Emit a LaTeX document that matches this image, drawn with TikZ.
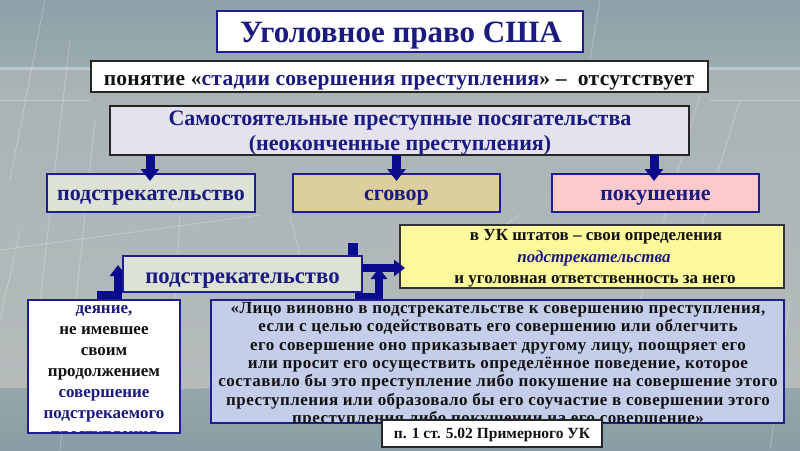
\documentclass[tikz,border=0pt]{standalone}
\usepackage{fontspec}
\setmainfont{Liberation Serif}
\usetikzlibrary{arrows.meta}
\definecolor{navy}{HTML}{1A1A80}
\definecolor{boxblue}{HTML}{1E1E90}
\definecolor{arrowblue}{HTML}{0B0B8E}
\definecolor{txt}{HTML}{121212}
\definecolor{lav}{HTML}{E4E2EC}
\definecolor{sage}{HTML}{DCE2D6}
\definecolor{tanb}{HTML}{DDCF9C}
\definecolor{pinkb}{HTML}{FCCACD}
\definecolor{yel}{HTML}{FCF89C}
\definecolor{peri}{HTML}{C4CDEA}
\definecolor{bgA}{HTML}{8CA1A8}
\definecolor{bgB}{HTML}{9BABB0}
\definecolor{bgC}{HTML}{A9B3B5}
\definecolor{bgD}{HTML}{B5BBBB}
\definecolor{bgE}{HTML}{95A7AC}
\definecolor{bgF}{HTML}{889DA3}
\newcommand\fnt[2]{\fontsize{#1}{#2}\selectfont\bfseries}
\begin{document}
\begin{tikzpicture}[x=1pt,y=-1pt,
  rect/.style={inner sep=0pt, outer sep=0pt},
  lbl/.style={inner sep=0pt, outer sep=0pt, anchor=base},
  bluebord/.style={draw=boxblue, line width=2pt},
  blackbord/.style={draw=black!85, line width=2pt},
  downarr/.style={draw=arrowblue, line width=9pt, -{Triangle[width=18pt,length=12pt]}},
  lowarr/.style={draw=arrowblue, line width=8.5pt, -{Triangle[width=16pt,length=11pt]}},
  bgline/.style={draw=white, opacity=0.28, line width=0.8pt}]
\useasboundingbox (0,0) rectangle (800,450);
% background
\shade[top color=bgA, bottom color=bgB] (0,0) rectangle (800,67);
\fill[white!35!bgB] (0,67) rectangle (800,70);
\shade[top color=bgC, bottom color=bgD] (0,70) rectangle (800,388);
\shade[top color=bgE, bottom color=bgF] (0,388) rectangle (800,450);
\draw[bgline] (45,0) -- (10,180);
\draw[bgline] (70,40) -- (40,300);
\draw[bgline] (95,120) -- (60,450);
\draw[bgline] (20,230) -- (0,320);
\draw[bgline] (0,250) -- (260,215);
\draw[bgline] (180,215) -- (175,300);
\draw[bgline] (290,215) -- (300,255);
\draw[bgline] (520,215) -- (505,225);
\draw[bgline] (700,95) -- (640,300);
\draw[bgline] (740,100) -- (700,230);
\draw[bgline] (790,300) -- (770,450);
\draw[bgline] (600,0) -- (590,60);
\draw[bgline] (0,100) -- (90,100);
\draw[bgline] (710,100) -- (800,100);
\draw[bgline] (30,390) -- (210,388);

% top part
\node[rect, draw=boxblue, line width=1.2pt, fill=white, minimum width=366pt, minimum height=41pt] (title) at (400,31.5) {};
\node[lbl, font=\fnt{31}{34}, text=navy] (titletxt) at (401,42) {Уголовное право США};
\node[rect, blackbord, fill=white, minimum width=617pt, minimum height=31pt] (concept) at (399.5,76.5) {};
\node[lbl, font=\fnt{21.5}{24}\addfontfeatures{LetterSpace=1.4}, text=txt] (concepttxt) at (399,85)
  {понятие «{\color{navy}стадии совершения преступления}» –\ \ отсутствует};
\node[rect, blackbord, fill=lav, minimum width=579pt, minimum height=49pt] (samost) at (399.5,130.5) {};
\node[lbl, font=\fnt{22}{23}, text=navy] (s1) at (400,125) {Самостоятельные преступные посягательства};
\node[lbl, font=\fnt{22}{23}, text=navy] (s2) at (400,150) {(неоконченные преступления)};
\node[rect, bluebord, fill=sage, minimum width=208pt, minimum height=38pt] (b1) at (151,193) {};
\node[lbl, font=\fnt{22}{24}, text=navy] (b1txt) at (151,200) {подстрекательство};
\node[rect, bluebord, fill=tanb, minimum width=207pt, minimum height=38pt] (b2) at (396.5,193) {};
\node[lbl, font=\fnt{22}{24}, text=navy] (b2txt) at (396.5,200) {сговор};
\node[rect, bluebord, fill=pinkb, minimum width=207pt, minimum height=38pt] (b3) at (655.5,193) {};
\node[lbl, font=\fnt{22}{24}, text=navy] (b3txt) at (655.5,200) {покушение};
\draw[downarr] (samost.south -| 150,0) -- ([yshift=-7pt]b1.north -| 150,0);
\draw[downarr] (samost.south -| b2) -- ([yshift=-7pt]b2.north);
\draw[downarr] (samost.south -| 654,0) -- ([yshift=-7pt]b3.north -| 654,0);

% lower connectors (behind boxes)
\coordinate (lstart) at (97,295.5);
\coordinate (ltip) at (118,265);
\draw[lowarr] (lstart) -| (ltip);
\fill[arrowblue] (348,243) rectangle (358,260);
\coordinate (rstart) at (355,297.5);
\coordinate (rtip) at (379,268);
\draw[lowarr] (rstart) -| (rtip);

% lower boxes
\node[rect, draw=black!80, line width=1.5pt, fill=yel, minimum width=384pt, minimum height=63pt] (yellow) at (592,256.5) {};
\node[lbl, font=\fnt{17}{20}, text=txt] (y1) at (596,240) {в УК штатов – свои определения};
\node[lbl, font=\fnt{17}{20}\itshape, text=navy] (y2) at (594,262) {подстрекательства};
\node[lbl, font=\fnt{17}{20}, text=txt] (y3) at (595,283) {и уголовная ответственность за него};

\node[rect, bluebord, fill=sage, minimum width=239pt, minimum height=36pt] (podstr) at (242.5,274) {};
\node[lbl, font=\fnt{22.8}{25}, text=navy] (podstrtxt) at (242.5,283) {подстрекательство};
\draw[lowarr] ([yshift=6pt]podstr.east) -- ([xshift=5pt,yshift=6pt]yellow.west |- podstr.east);

\node[rect, draw=boxblue, line width=2.5pt, fill=white, minimum width=152pt, minimum height=133pt] (leftbox) at (104,366.5) {};
\begin{scope}
\clip (29.5,301.5) rectangle (178.5,431.5);
\node[rect, anchor=north, align=center, font=\fnt{17}{21}, text=txt] (lefttxt) at (104,298.5)
  {\strut{\color{navy}деяние,}\\не имевшее\\своим\\продолжением\\{\color{navy}совершение}\\{\color{navy}подстрекаемого}\\{\color{navy}преступления}};
\end{scope}

\node[rect, bluebord, fill=peri, minimum width=573pt, minimum height=123pt] (bluebox) at (497.5,361.5) {};
\begin{scope}
\clip (212,301) rectangle (783,422);
\node[rect, anchor=north, align=center, font=\fnt{17}{18.4}\addfontfeatures{LetterSpace=2.8}, text=txt] (bluetxt) at (498,300.5)
  {\strut«Лицо виновно в подстрекательстве к совершению преступления,\\
   если с целью содействовать его совершению или облегчить\\
   его совершение оно приказывает другому лицу, поощряет его\\
   или просит его осуществить определённое поведение, которое\\
   составило бы это преступление либо покушение на совершение этого\\
   преступления или образовало бы его соучастие в совершении этого\\
   преступления либо покушении на его совершение»};
\end{scope}

\node[rect, draw=black!85, line width=1.3pt, fill=white, minimum width=220pt, minimum height=27pt] (ref) at (492,433.5) {};
\node[lbl, font=\fnt{15.5}{17}, text=txt] (reftxt) at (492,438) {п. 1 ст. 5.02 Примерного УК};
\end{tikzpicture}
\end{document}
